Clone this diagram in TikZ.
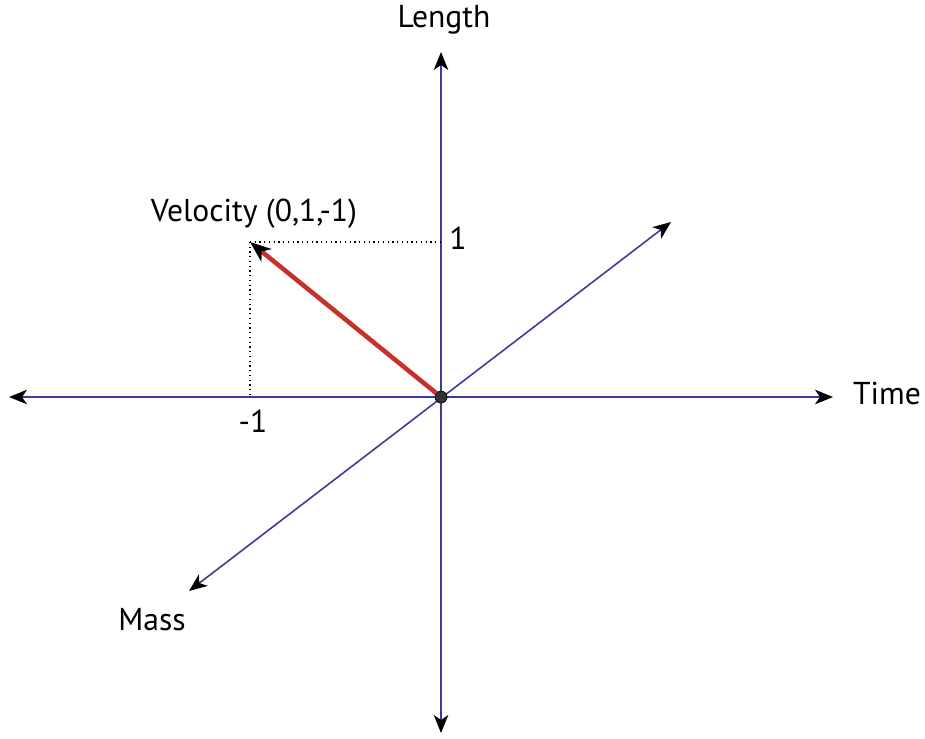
\documentclass[tikz,border=0pt]{standalone}
\usepackage{fontspec}
\setmainfont{PT Sans}
\usepackage{tikz}
\usetikzlibrary{arrows.meta,positioning,calc}
\definecolor{axisblue}{HTML}{3B3B9A}
\definecolor{velred}{HTML}{C8302E}

\begin{document}
\begin{tikzpicture}[
  x=0.02cm,y=-0.02cm,
  axis/.style={{Stealth[length=3.6mm,width=2.9mm,inset=1mm,color=black]}-{Stealth[length=3.6mm,width=2.9mm,inset=1mm,color=black]},
               draw=axisblue,line width=.9pt},
  vel/.style={-{Stealth[length=4.2mm,width=3.2mm,inset=1.2mm,color=black]},draw=velred,line width=2.6pt},
  guide/.style={dotted,line width=.7pt},
  label/.style={font=\fontsize{18}{20}\selectfont,inner sep=1pt},
  dot/.style={circle,fill=black!80,draw=black,inner sep=0pt,minimum size=.24cm}
]
  \useasboundingbox (0,0) rectangle (925,738);

  % axis ends
  \coordinate (tl) at (9,397);
  \coordinate (tr) at (833,397);
  \coordinate (lt) at (441,52);
  \coordinate (lb) at (441,733);
  \coordinate (mb) at (189,591);
  \coordinate (mt) at (671,222);
  \coordinate (v) at (250,242);
  \coordinate (one) at (441,242);
  \coordinate (mone) at (250,397);

  \draw[axis] (tl) -- (tr);
  \draw[axis] (lb) -- (lt);
  \draw[axis] (mb) -- (mt);

  \draw[guide] (v) -- (one);
  \draw[guide] (v) -- (mone);

  \node[dot] (o) at (441,397) {};
  \draw[vel] (o) -- (v);

  \node[label] (length) at (444,20) {Length};
  \node[label] (time) at (887,393) {Time};
  \node[label] (mass) at (152,620) {Mass};
  \node[label] (velo) at (254,214) {Velocity (0,1,-1)};
  \node[label] (n1) at (458,238) {1};
  \node[label] (nm1) at (253,421) {-1};
\end{tikzpicture}
\end{document}
